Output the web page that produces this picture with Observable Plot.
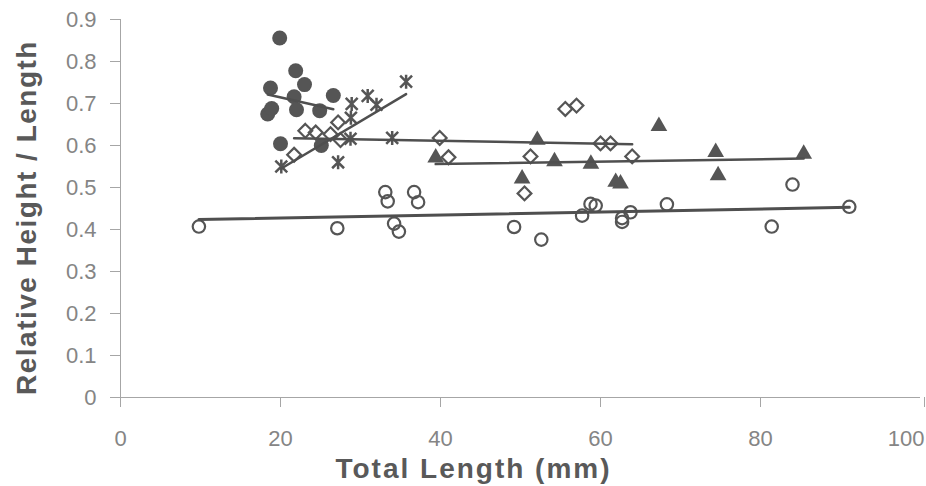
<!DOCTYPE html>
<html>
<head>
<meta charset="utf-8">
<script src="https://cdn.jsdelivr.net/npm/d3@7"></script>
<script src="https://cdn.jsdelivr.net/npm/@observablehq/plot@0.6"></script>
<style>
  html, body { margin: 0; padding: 0; background: #fff; }
  #chart { width: 926px; height: 486px; }
</style>
</head>
<body>
<div id="chart"></div>
<script>
// ---- Data ----
// Series A: filled circles
const filledCircleX = [19.9, 21.9, 23.0, 18.75, 21.7, 26.6, 18.4, 18.9, 22.0, 24.9, 20.0, 25.1];
const filledCircleY = [0.856, 0.778, 0.745, 0.737, 0.716, 0.719, 0.675, 0.688, 0.685, 0.683, 0.604, 0.600];

// Series B: asterisks
const starX = [35.7, 30.9, 28.9, 32.0, 28.8, 28.75, 33.96, 27.2, 20.1];
const starY = [0.752, 0.718, 0.699, 0.697, 0.666, 0.616, 0.618, 0.560, 0.550];

// Series C: open diamonds
const diamondX = [21.7, 23.1, 24.4, 26.25, 27.2, 27.5, 39.9, 41.0, 51.25, 50.5, 55.6, 57.0, 60.0, 61.25, 63.96];
const diamondY = [0.578, 0.635, 0.631, 0.627, 0.655, 0.613, 0.618, 0.572, 0.574, 0.486, 0.687, 0.695, 0.605, 0.605, 0.574];

// Series D: filled triangles
const triangleX = [39.4, 52.1, 54.25, 58.8, 50.2, 61.9, 62.5, 67.3, 74.4, 74.7, 85.4];
const triangleY = [0.571, 0.613, 0.562, 0.556, 0.521, 0.513, 0.509, 0.646, 0.584, 0.529, 0.580];

// Series E: open circles
const openCircleX = [9.8, 27.1, 33.1, 33.4, 36.7, 37.2, 34.2, 34.8, 49.2, 52.6, 57.7, 58.75, 59.4, 62.7, 62.7, 63.75, 68.3, 81.4, 84.0, 91.1];
const openCircleY = [0.407, 0.403, 0.489, 0.467, 0.489, 0.465, 0.414, 0.395, 0.406, 0.376, 0.433, 0.461, 0.457, 0.427, 0.418, 0.441, 0.460, 0.407, 0.507, 0.454];

// Axis ticks and titles
const xTicks = [0, 20, 40, 60, 80];
const xLastTick = [100];
const yTicks = [0, 0.1, 0.2, 0.3, 0.4, 0.5, 0.6, 0.7, 0.8, 0.9];
const xTitle = "Total Length (mm)";
const yTitle = "Relative Height / Length";

// ---- Build tables ----
const zip = (xs, ys) => xs.map((x, i) => ({x, y: ys[i]}));
const filledCircles = zip(filledCircleX, filledCircleY);
const stars = zip(starX, starY);
const diamonds = zip(diamondX, diamondY);
const triangles = zip(triangleX, triangleY);
const openCircles = zip(openCircleX, openCircleY);

// Excel-style star marker: X plus vertical bar
const excelStar = {
  draw(context, size) {
    const r = Math.sqrt(size / Math.PI);
    const d = r * 0.85;
    context.moveTo(0, -r); context.lineTo(0, r);
    context.moveTo(-d, -d); context.lineTo(d, d);
    context.moveTo(-d, d); context.lineTo(d, -d);
  }
};

const ink = "#555555";
const lineInk = "#4f4f4f";
const axisInk = "#a6a6a6";
const labelInk = "#858585";

const fmt = d => d === 0 ? "0" : d3.format(".1f")(d);

const chart = Plot.plot({
  width: 926,
  height: 486,
  marginLeft: 120,
  marginRight: 6,
  marginTop: 19,
  marginBottom: 89,
  style: {fontFamily: "'Liberation Sans', Arial, sans-serif", background: "#fff", overflow: "visible"},
  x: {domain: [0, 100]},
  y: {domain: [0, 0.9]},
  marks: [
    Plot.ruleX([0], {stroke: axisInk, strokeWidth: 1}),
    Plot.ruleY([0], {stroke: axisInk, strokeWidth: 1}),
    Plot.axisY({ticks: yTicks, tickFormat: fmt, tickSize: 10, tickPadding: 14, fontSize: 22, stroke: axisInk, fill: labelInk, label: null}),
    Plot.axisX({ticks: xTicks, tickSize: 10, tickPadding: 23, fontSize: 22, stroke: axisInk, fill: labelInk, label: null}),
    Plot.axisX({ticks: xLastTick, tickSize: 10, tickPadding: 23, fontSize: 22, stroke: axisInk, fill: labelInk, label: null, textAnchor: "end", dx: 4}),

    // points
    Plot.dot(openCircles, {x: "x", y: "y", r: 6.2, stroke: ink, strokeWidth: 2.2, fill: "none"}),
    Plot.dot(triangles, {x: "x", y: "y", r: 6.2, symbol: "triangle", fill: ink}),
    Plot.dot(diamonds, {x: "x", y: "y", r: 6.2, symbol: "diamond2", stroke: ink, strokeWidth: 2.2, fill: "none"}),
    Plot.dot(stars, {x: "x", y: "y", r: 7, symbol: excelStar, stroke: ink, strokeWidth: 2.5, fill: "none"}),
    Plot.dot(filledCircles, {x: "x", y: "y", r: 7.5, fill: ink}),

    // linear trend lines
    Plot.linearRegressionY(openCircles, {x: "x", y: "y", ci: 0, stroke: lineInk, strokeWidth: 3}),
    Plot.linearRegressionY(triangles, {x: "x", y: "y", ci: 0, stroke: lineInk, strokeWidth: 2.5}),
    Plot.linearRegressionY(diamonds, {x: "x", y: "y", ci: 0, stroke: lineInk, strokeWidth: 2.5}),
    Plot.linearRegressionY(stars, {x: "x", y: "y", ci: 0, stroke: lineInk, strokeWidth: 2.5}),
    Plot.linearRegressionY(filledCircles, {x: "x", y: "y", ci: 0, stroke: lineInk, strokeWidth: 2.5}),

    // axis titles
    Plot.text([xTitle], {frameAnchor: "bottom", textAnchor: "middle", dx: -47, dy: 80, fontSize: 28, fontWeight: "bold", fill: "#595959"}),
    Plot.text([yTitle], {frameAnchor: "left", textAnchor: "middle", rotate: -90, dx: -93, dy: 9, fontSize: 28, fontWeight: "bold", fill: "#595959"})
  ]
});

// letter spacing for the bold axis titles
d3.select(chart).selectAll("text").each(function() {
  const t = this.textContent;
  if (t === xTitle) this.setAttribute("letter-spacing", "2");
  if (t === yTitle) this.setAttribute("letter-spacing", "1.5");
});

document.getElementById("chart").appendChild(chart);
</script>
</body>
</html>
